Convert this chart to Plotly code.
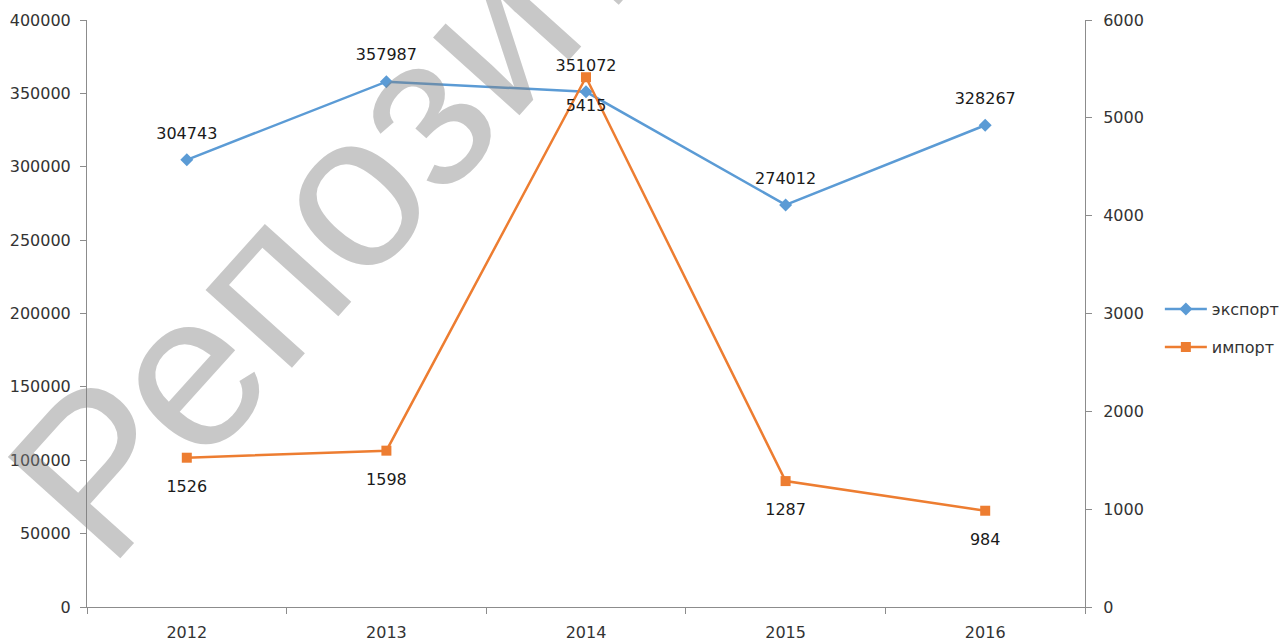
import plotly.graph_objects as go

years = ["2012", "2013", "2014", "2015", "2016"]
export_vals = [304743, 357987, 351072, 274012, 328267]
import_vals = [1526, 1598, 5415, 1287, 984]
left_ticks = [0, 50000, 100000, 150000, 200000, 250000, 300000, 350000, 400000]
right_ticks = [0, 1000, 2000, 3000, 4000, 5000, 6000]

FONT = "DejaVu Sans"
AXIS_COLOR = "#8c8c8c"
TICK_FONT = dict(family=FONT, size=16, color="#333333")
LABEL_FONT = dict(family=FONT, size=16, color="#1a1a1a")

fig = go.Figure()
fig.add_trace(go.Scatter(
    x=years, y=export_vals, name="экспорт", yaxis="y",
    mode="lines+markers",
    line=dict(color="#5B9BD5", width=2.5),
    marker=dict(symbol="diamond", size=10, color="#5B9BD5"),
    legendgroup="a", hoverinfo="skip",
))
fig.add_trace(go.Scatter(
    x=years, y=import_vals, name="импорт", yaxis="y2",
    mode="lines+markers",
    line=dict(color="#ED7D31", width=2.5),
    marker=dict(symbol="square", size=10, color="#ED7D31"),
    legendgroup="b", hoverinfo="skip",
))
# data labels (transparent markers give the label offset)
fig.add_trace(go.Scatter(
    x=years, y=export_vals, yaxis="y", mode="markers+text",
    text=[str(v) for v in export_vals], textposition="top center",
    textfont=LABEL_FONT, marker=dict(size=26, color="rgba(0,0,0,0)"),
    showlegend=False, hoverinfo="skip",
))
fig.add_trace(go.Scatter(
    x=years, y=import_vals, yaxis="y2", mode="markers+text",
    text=[str(v) for v in import_vals], textposition="bottom center",
    textfont=LABEL_FONT, marker=dict(size=34, color="rgba(0,0,0,0)"),
    showlegend=False, hoverinfo="skip",
))

fig.update_layout(
    width=1280, height=642,
    margin=dict(l=87, r=195, t=20, b=35, autoexpand=False),
    paper_bgcolor="white", plot_bgcolor="white",
    showlegend=True,
    legend=dict(x=1.075, y=0.475, xanchor="left", yanchor="middle",
                font=dict(family=FONT, size=16, color="#333333"),
                traceorder="grouped", tracegroupgap=14, itemwidth=42,
                bgcolor="rgba(0,0,0,0)"),
    xaxis=dict(type="category", range=[-0.5, 4.5], tickson="boundaries",
               showline=True, linecolor=AXIS_COLOR, linewidth=1,
               ticks="outside", ticklen=6, tickcolor=AXIS_COLOR,
               showgrid=False, zeroline=False, tickfont=TICK_FONT,
               ticklabelstandoff=11, automargin=False),
    yaxis=dict(range=[0, 400000], tickvals=left_ticks,
               ticktext=[str(v) for v in left_ticks],
               showline=True, linecolor=AXIS_COLOR, linewidth=1,
               ticks="outside", ticklen=6, tickcolor=AXIS_COLOR,
               showgrid=False, zeroline=False, tickfont=TICK_FONT,
               ticklabelstandoff=6, automargin=False),
    yaxis2=dict(range=[0, 6000], tickvals=right_ticks,
                ticktext=[str(v) for v in right_ticks],
                overlaying="y", side="right", anchor="x",
                showline=True, linecolor=AXIS_COLOR, linewidth=1,
                ticks="outside", ticklen=6, tickcolor=AXIS_COLOR,
                showgrid=False, zeroline=False, tickfont=TICK_FONT,
                ticklabelstandoff=8, automargin=False),
    annotations=[dict(
        text="Репозиторий", xref="paper", yref="paper",
        x=0.404, y=0.976, xanchor="center", yanchor="middle",
        textangle=-48, showarrow=False,
        font=dict(family="Liberation Sans", size=220, color="rgba(128,128,128,0.43)"),
    )],
)

fig.write_html("out.html", post_script="document.body.style.margin='0';",
               config={"displayModeBar": False})
